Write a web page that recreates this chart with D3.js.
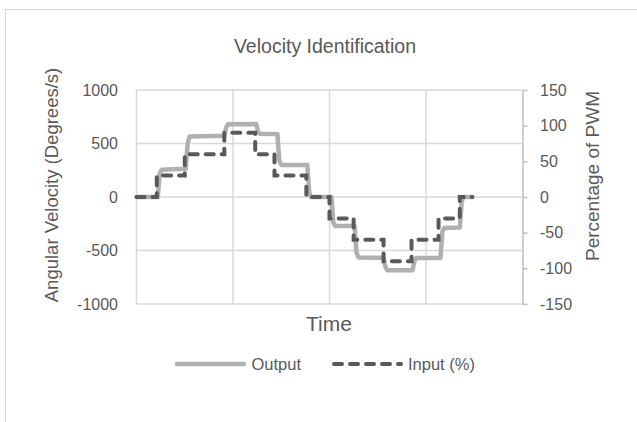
<!DOCTYPE html>
<html>
<head>
<meta charset="utf-8">
<script src="https://cdn.jsdelivr.net/npm/d3@7"></script>
<style>
  html, body { margin: 0; padding: 0; background: #fff; }
  svg { display: block; }
  text { font-family: "Liberation Sans", Arial, sans-serif; fill: #595959; }
</style>
</head>
<body>
<svg id="chart" width="637" height="422"></svg>
<script>
// Velocity identification run: PWM input steps and measured angular velocity.
const timeTicks = [0, 100, 200, 300, 400];
const velocityTicks = [-1000, -500, 0, 500, 1000];
const pwmTicks = [-150, -100, -50, 0, 50, 100, 150];

// Input (% of PWM), held from each time until the next one
const inputTime = [0, 21, 50, 91, 123, 143, 176, 200, 225, 256, 285, 313, 335, 348];
const inputPct  = [0, 30, 60, 90, 60, 30, 0, -30, -60, -90, -60, -30, 0, 0];

// Output angular velocity (degrees/s)
const outputTime = [0, 22, 24, 26, 50, 51, 53, 55, 90, 91, 93, 95, 123, 124, 126, 128, 145,
  146, 148, 150, 176, 177, 179, 181, 201, 202, 204, 206, 225, 226, 228, 230, 255,
  256, 258, 260, 285, 286, 288, 290, 314, 315, 317, 319, 334, 335, 337, 339, 348];
const outputVel = [0, 0, 215, 255, 264, 264, 500, 565, 572, 572, 650, 680, 682, 682, 610, 590, 588,
  588, 340, 300, 300, 300, 40, 0, 0, 0, -240, -272, -272, -272, -520, -565, -567,
  -567, -655, -685, -685, -685, -600, -570, -570, -570, -320, -290, -285, -285, -40, 0, 0];

const svg = d3.select("#chart");
const W = 637, H = 422;
const plot = { left: 136.5, right: 522.5, top: 90, bottom: 304 };
const plainNumber = d => String(d);

// chart frame
svg.append("rect")
  .attr("x", 5.5).attr("y", 9.5)
  .attr("width", W + 10).attr("height", H + 10)
  .attr("fill", "#fff").attr("stroke", "#d9d9d9").attr("stroke-width", 1);

const x = d3.scaleLinear().domain([0, 400]).range([plot.left, plot.right]);
const yL = d3.scaleLinear().domain([-1000, 1000]).range([plot.bottom, plot.top]);
const yR = d3.scaleLinear().domain([-150, 150]).range([plot.bottom, plot.top]);

// gridlines
const grid = svg.append("g").attr("stroke", "#d9d9d9").attr("stroke-width", 1.5);
grid.selectAll("line.h").data(velocityTicks).join("line")
  .attr("x1", plot.left).attr("x2", plot.right)
  .attr("y1", d => yL(d)).attr("y2", d => yL(d));
grid.selectAll("line.v").data(timeTicks.slice(0, -1)).join("line")
  .attr("x1", d => x(d)).attr("x2", d => x(d))
  .attr("y1", plot.top).attr("y2", plot.bottom);

// left axis (labels only)
const leftAxis = svg.append("g")
  .attr("transform", `translate(${plot.left},0)`)
  .call(d3.axisLeft(yL).tickValues(velocityTicks).tickSize(0).tickPadding(18.5).tickFormat(plainNumber));
leftAxis.select(".domain").remove();
leftAxis.selectAll("text").style("font-size", "16px").attr("fill", "#595959");

// right axis with outward ticks
const rightAxis = svg.append("g")
  .attr("transform", `translate(${plot.right},0)`)
  .call(d3.axisRight(yR).tickValues(pwmTicks).tickSize(5).tickSizeOuter(0).tickPadding(12.5).tickFormat(plainNumber));
rightAxis.select(".domain").attr("stroke", "#bfbfbf").attr("stroke-width", 1.5);
rightAxis.selectAll(".tick line").attr("stroke", "#bfbfbf").attr("stroke-width", 1.5);
rightAxis.selectAll("text").style("font-size", "16px").attr("fill", "#595959");

// series
const outLine = d3.line()
  .x((d, i) => x(outputTime[i]))
  .y(d => yL(d));
svg.append("path")
  .datum(outputVel)
  .attr("d", outLine)
  .attr("fill", "none").attr("stroke", "#b0b0b0").attr("stroke-width", 4.5)
  .attr("stroke-linejoin", "round").attr("stroke-linecap", "round");

const inLine = d3.line()
  .x((d, i) => x(inputTime[i]))
  .y(d => yR(d))
  .curve(d3.curveStepAfter);
svg.append("path")
  .datum(inputPct)
  .attr("d", inLine)
  .attr("fill", "none").attr("stroke", "#595959").attr("stroke-width", 4)
  .attr("stroke-dasharray", "8,8").attr("stroke-linecap", "round");

// titles
svg.append("text")
  .attr("x", 325).attr("y", 52.5).attr("text-anchor", "middle")
  .style("font-size", "19.5px").text("Velocity Identification");

svg.append("text")
  .attr("transform", "translate(58,185) rotate(-90)")
  .attr("text-anchor", "middle")
  .style("font-size", "18.5px").text("Angular Velocity (Degrees/s)");

svg.append("text")
  .attr("transform", "translate(599,176) rotate(-90)")
  .attr("text-anchor", "middle")
  .style("font-size", "19px").text("Percentage of PWM");

svg.append("text")
  .attr("x", 329).attr("y", 331).attr("text-anchor", "middle")
  .style("font-size", "21px").text("Time");

// legend
const legend = svg.append("g");
legend.append("line")
  .attr("x1", 177).attr("x2", 244).attr("y1", 364).attr("y2", 364)
  .attr("stroke", "#b0b0b0").attr("stroke-width", 4.5).attr("stroke-linecap", "round");
legend.append("text").attr("x", 251.5).attr("y", 369.5)
  .style("font-size", "16.5px").text("Output");
legend.append("line")
  .attr("x1", 334).attr("x2", 401).attr("y1", 364).attr("y2", 364)
  .attr("stroke", "#595959").attr("stroke-width", 4)
  .attr("stroke-dasharray", "8,8").attr("stroke-linecap", "round");
legend.append("text").attr("x", 408).attr("y", 369.5)
  .style("font-size", "16.5px").text("Input (%)");
</script>
</body>
</html>
